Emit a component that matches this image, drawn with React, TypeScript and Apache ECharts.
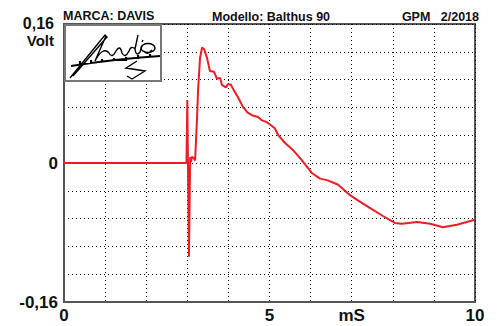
import React, { useEffect, useRef } from "react";
import * as echarts from "echarts";

const timeMs = [
  0, 2.98, 3.0, 3.04, 3.07, 3.09, 3.11, 3.15, 3.19, 3.24, 3.26, 3.31, 3.36, 3.41, 3.48, 3.55,
  3.65, 3.72, 3.8, 3.84, 3.94, 3.99, 4.06, 4.14, 4.23, 4.36, 4.47, 4.57, 4.72, 4.82, 4.94,
  5.13, 5.21, 5.38, 5.57, 5.79, 6.03, 6.23, 6.42, 6.67, 6.96, 7.15, 7.45, 7.76, 8.05, 8.22,
  8.59, 8.91, 9.22, 9.56, 9.95, 10,
];
const volts = [
  0, 0, 0.0725, -0.108, 0.007, 0.001, 0.007, 0.006, 0.003, 0.055, 0.082, 0.121, 0.133, 0.131,
  0.121, 0.106, 0.105, 0.097, 0.098, 0.09, 0.087, 0.091, 0.09, 0.083, 0.076, 0.064, 0.058,
  0.055, 0.053, 0.049, 0.047, 0.04, 0.032, 0.023, 0.015, 0.003, -0.0115, -0.018, -0.02,
  -0.025, -0.037, -0.043, -0.052, -0.061, -0.069, -0.07, -0.068, -0.07, -0.074, -0.071,
  -0.066, -0.065,
];
const xTickLabels: Record<number, string> = { 0: "0", 5: "5", 7: "mS", 10: "10" };
const headerLeft = "MARCA: DAVIS";
const headerMid = "Modello: Balthus 90";
const headerRight = "GPM   2/2018";
const yTopLabel = "0,16";
const yUnit = "Volt";

const FONT = "'Liberation Sans', Arial, sans-serif";

let registered = false;
function registerLogo() {
  if (registered) return;
  registered = true;
  const strokes =
    "M5,54 L40,11 L42,13 L8,52 M41,12 L30,37 M30,37 Q38,22 44,29 Q47,35 51,27 Q55,20 57,29 Q60,35 64,27 Q66,21 70,25 L73,11 M70,25 Q71,33 75,28 L77,22 M77,18 L78,16 M79,27 Q82,32 87,26 M72,37 L61,44 L80,47 L67,55 L62,52";
  const bar = "M6,42 Q50,35 95,32 M15,41 L15,37 M26,40 L26,36 M37,39 L37,35 M49,38 L49,34 M61,37 L61,33 M73,35 L73,31 M85,34 L85,30";
  echarts.graphic.registerShape("logoStrokes", echarts.graphic.extendPath(strokes, {}) as any);
  echarts.graphic.registerShape("logoBar", echarts.graphic.extendPath(bar, {}) as any);
}

export default function App() {
  const ref = useRef<HTMLDivElement>(null);
  useEffect(() => {
    if (!ref.current) return;
    registerLogo();
    const chart = echarts.init(ref.current, undefined, { renderer: "svg" });
    const data = timeMs.map((t, i) => [t, volts[i]]);
    chart.setOption({
      animation: false,
      backgroundColor: "#ffffff",
      textStyle: { fontFamily: FONT },
      grid: {
        left: 64,
        right: 25,
        top: 24,
        bottom: 24,
        show: true,
        borderColor: "#555555",
        borderWidth: 2,
        backgroundColor: "transparent",
      },
      xAxis: {
        type: "value",
        min: 0,
        max: 10,
        interval: 1,
        axisLine: { show: true, onZero: false, lineStyle: { color: "#555555", width: 2 } },
        axisTick: { show: false },
        splitLine: { show: true, lineStyle: { color: "#000000", width: 1, type: [1, 3] } },
        axisLabel: {
          margin: 5,
          color: "#111111",
          fontFamily: FONT,
          fontWeight: "bold",
          fontSize: 17,
          showMinLabel: true,
          showMaxLabel: true,
          formatter: (v: number) => xTickLabels[Math.round(v)] ?? "",
        },
      },
      yAxis: {
        type: "value",
        min: -0.16,
        max: 0.16,
        interval: 0.032,
        axisLine: { show: true, onZero: false, lineStyle: { color: "#555555", width: 2 } },
        axisTick: { show: false },
        splitLine: { show: true, lineStyle: { color: "#000000", width: 1, type: [1, 3] } },
        axisLabel: {
          margin: 6,
          color: "#111111",
          fontFamily: FONT,
          fontWeight: "bold",
          fontSize: 17,
          showMinLabel: true,
          formatter: (v: number) => {
            if (Math.abs(v) < 1e-6) return "0";
            if (v < -0.159) return "-0,16";
            return "";
          },
        },
      },
      series: [
        {
          type: "line",
          data,
          showSymbol: false,
          symbol: "none",
          lineStyle: { color: "#ee1c25", width: 2 },
          z: 3,
        },
      ],
      graphic: [
        {
          type: "text",
          left: 63,
          top: 9,
          style: { text: headerLeft, font: `bold 12.5px ${FONT}`, fill: "#111111" },
        },
        {
          type: "text",
          x: 271,
          y: 17,
          style: {
            text: headerMid,
            font: `bold 12.5px ${FONT}`,
            fill: "#111111",
            align: "center",
            verticalAlign: "middle",
          },
        },
        {
          type: "text",
          x: 479,
          y: 17,
          style: {
            text: headerRight,
            font: `bold 12.5px ${FONT}`,
            fill: "#111111",
            align: "right",
            verticalAlign: "middle",
          },
        },
        {
          type: "text",
          x: 54,
          y: 23,
          style: {
            text: yTopLabel,
            font: `bold 16px ${FONT}`,
            fill: "#111111",
            align: "right",
            verticalAlign: "middle",
          },
        },
        {
          type: "text",
          x: 54,
          y: 40.5,
          style: {
            text: yUnit,
            font: `bold 15px ${FONT}`,
            fill: "#111111",
            align: "right",
            verticalAlign: "middle",
          },
        },
        {
          type: "rect",
          shape: { x: 65, y: 25, width: 96, height: 56 },
          style: { fill: "#ffffff", stroke: "#777777", lineWidth: 2 },
          z: 10,
        },
        {
          type: "logoStrokes",
          x: 65,
          y: 24,
          style: { fill: "none", stroke: "#000000", lineWidth: 1.4 },
          z: 11,
        },
        {
          type: "logoBar",
          x: 65,
          y: 24,
          style: { fill: "none", stroke: "#000000", lineWidth: 2.2 },
          z: 11,
        },
        {
          type: "ellipse",
          shape: { cx: 148, cy: 48, rx: 7, ry: 4.5 },
          style: { fill: "none", stroke: "#000000", lineWidth: 1.4 },
          z: 11,
        },
      ],
    });
    return () => chart.dispose();
  }, []);
  return (
    <div
      ref={ref}
      style={{ position: "fixed", left: 0, top: 0, width: 500, height: 326 }}
    />
  );
}
